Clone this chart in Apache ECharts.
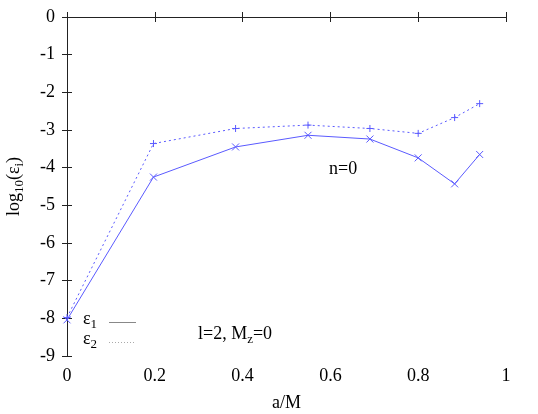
<!DOCTYPE html>
<html>
<head>
<meta charset="utf-8">
<script src="https://cdn.jsdelivr.net/npm/echarts@6/dist/echarts.min.js"></script>
<style>
  html, body { margin: 0; padding: 0; background: #fff; }
  #main { width: 538px; height: 414px; }
</style>
</head>
<body>
<div id="main"></div>
<script>
// a/M values and log10 of the errors
var aOverM = [0, 0.197, 0.384, 0.549, 0.69, 0.8, 0.883, 0.94];
var eps1 = [-8.04, -4.25, -3.45, -3.14, -3.24, -3.74, -4.43, -3.65];
var eps2 = [-7.98, -3.36, -2.96, -2.87, -2.96, -3.09, -2.67, -2.30];
var xTicks = [0, 0.2, 0.4, 0.6, 0.8, 1];
var yTicks = [0, -1, -2, -3, -4, -5, -6, -7, -8, -9];

var blue = '#5a5aff';
var font = 'Liberation Serif';

function pairs(xs, ys) {
    var out = [];
    for (var i = 0; i < xs.length; i++) {
        out.push([xs[i], ys[i]]);
    }
    return out;
}

var crossSym = 'path://M0,0L10,10M10,0L0,10';
var plusSym = 'path://M5,0L5,10M0,5L10,5';

var rich = {
    t: { fontFamily: font, fontSize: 18, color: '#000' },
    s: { fontFamily: font, fontSize: 13, color: '#000', padding: [11, 0, 0, 0] }
};

var myChart = echarts.init(document.getElementById('main'));
myChart.setOption({
    animation: false,
    grid: {
        left: 67,
        right: 32,
        top: 17,
        bottom: 58,
        show: false,
        outerBoundsMode: 'none'
    },
    xAxis: [{
        type: 'value',
        min: xTicks[0],
        max: xTicks[xTicks.length - 1],
        interval: 0.2,
        name: 'a/M',
        nameLocation: 'middle',
        nameGap: 38,
        nameTextStyle: { fontFamily: font, fontSize: 18, color: '#000' },
        axisLine: { show: true, lineStyle: { color: '#222', width: 1 } },
        axisTick: { show: true, inside: true, length: 5, lineStyle: { color: '#222' } },
        axisLabel: {
            margin: 11,
            fontFamily: font,
            fontSize: 18,
            color: '#000',
            formatter: function (v) { return String(v); }
        },
        splitLine: { show: false }
    }, {
        type: 'value',
        position: 'top',
        min: xTicks[0],
        max: xTicks[xTicks.length - 1],
        interval: 0.2,
        axisLine: { show: true, lineStyle: { color: '#222', width: 1 } },
        axisTick: { show: true, inside: true, length: 5, lineStyle: { color: '#222' } },
        axisLabel: { show: false },
        splitLine: { show: false }
    }],
    yAxis: [{
        type: 'value',
        min: yTicks[yTicks.length - 1],
        max: yTicks[0],
        interval: 1,
        name: '{t|log}{s|10}{t|(ε}{s|i}{t|)}',
        nameLocation: 'middle',
        nameGap: 41,
        nameRotate: 90,
        nameTextStyle: { rich: rich },
        axisLine: { show: true, lineStyle: { color: '#222', width: 1 } },
        axisTick: { show: true, inside: true, length: 5, lineStyle: { color: '#222' } },
        axisLabel: {
            margin: 12,
            fontFamily: font,
            fontSize: 18,
            color: '#000'
        },
        splitLine: { show: false }
    }, {
        type: 'value',
        position: 'right',
        min: yTicks[yTicks.length - 1],
        max: yTicks[0],
        interval: 1,
        axisLine: { show: true, lineStyle: { color: '#222', width: 1 } },
        axisTick: { show: true, inside: true, length: 5, lineStyle: { color: '#222' } },
        axisLabel: { show: false },
        splitLine: { show: false }
    }],
    series: [{
        name: 'eps1',
        type: 'line',
        xAxisIndex: 0,
        yAxisIndex: 0,
        data: pairs(aOverM, eps1),
        lineStyle: { color: blue, width: 1 },
        symbol: crossSym,
        symbolSize: 7,
        showAllSymbol: true,
        itemStyle: { color: 'none', borderColor: blue, borderWidth: 1 }
    }, {
        name: 'eps2',
        type: 'line',
        xAxisIndex: 0,
        yAxisIndex: 0,
        data: pairs(aOverM, eps2),
        lineStyle: { color: blue, width: 1, type: [2, 3] },
        symbol: plusSym,
        symbolSize: 7,
        showAllSymbol: true,
        itemStyle: { color: 'none', borderColor: blue, borderWidth: 1 }
    }],
    graphic: [{
        type: 'text',
        left: 329,
        top: 160,
        style: { text: 'n=0', font: '18px "Liberation Serif"', fill: '#000' }
    }, {
        type: 'text',
        left: 198,
        top: 325,
        style: { text: '{t|l=2, M}{s|z}{t|=0}', rich: rich }
    }, {
        type: 'text',
        left: 83,
        top: 310,
        style: { text: '{t|ε}{s|1}', rich: rich }
    }, {
        type: 'text',
        left: 83,
        top: 330,
        style: { text: '{t|ε}{s|2}', rich: rich }
    }, {
        type: 'line',
        shape: { x1: 109, y1: 322.5, x2: 136, y2: 322.5 },
        style: { stroke: '#888', lineWidth: 1 }
    }, {
        type: 'line',
        shape: { x1: 109, y1: 342.5, x2: 136, y2: 342.5 },
        style: { stroke: '#aaa', lineWidth: 1, lineDash: [1, 2] }
    }]
});
</script>
</body>
</html>
